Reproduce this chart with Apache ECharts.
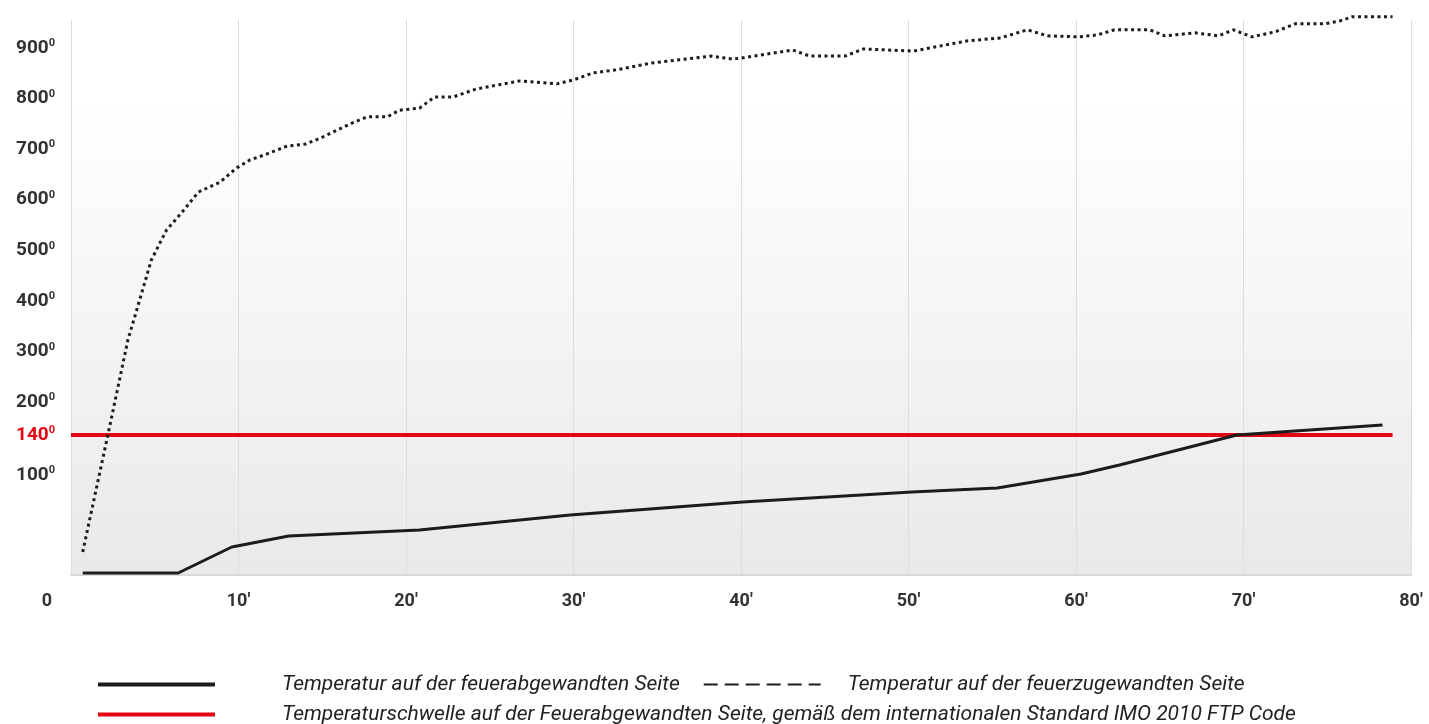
<!DOCTYPE html>
<html>
<head>
<meta charset="utf-8">
<title>Temperaturverlauf</title>
<script src="https://cdn.jsdelivr.net/npm/echarts@6/dist/echarts.min.js"></script>
<style>
  html, body { margin: 0; padding: 0; background: #fff; }
  #chart { width: 1429px; height: 724px; }
</style>
</head>
<body>
<div id="chart"></div>
<script>
// Minuten / Temperatur
var solidMin  = [0.7, 6.4, 9.6, 13.0, 20.8, 29.8, 40.1, 50.2, 55.3, 60.3, 62.6, 69.6, 78.3];
var solidTemp = [2, 2, 28, 39, 45, 60, 73, 83, 87, 101, 110, 140, 158];

var dotMin  = [0.7, 2.2, 3.4, 4.1, 4.8, 5.7, 6.6, 7.6, 8.9, 9.9, 10.7, 11.5, 12.9, 14.0, 14.9, 16.8,
               17.7, 18.9, 19.6, 20.8, 21.7, 22.8, 24.2, 26.8, 29.0, 30.0, 31.2, 32.6, 34.6, 38.2,
               39.5, 40.4, 43.1, 44.1, 46.2, 47.3, 50.3, 53.5, 55.5, 57.1, 58.3, 60.2, 61.3, 62.3,
               64.4, 65.3, 67.1, 68.5, 69.4, 70.5, 71.9, 73.1, 74.9, 75.8, 76.5, 78.9];
var dotTemp = [23, 140, 323, 402, 481, 540, 574, 615, 635, 663, 679, 688, 706, 710, 722, 752,
               764, 764, 777, 781, 803, 803, 819, 835, 829, 837, 851, 857, 870, 884,
               878, 882, 896, 884, 884, 898, 894, 914, 920, 936, 924, 922, 926, 936,
               936, 924, 930, 924, 936, 922, 932, 948, 948, 954, 962, 962];

var limitMin  = [0, 78.9];
var limitTemp = [140, 140];

var yTicks = [100, 140, 200, 300, 400, 500, 600, 700, 800, 900];

var names = [
  'Temperatur auf der feuerabgewandten Seite',
  'Temperatur auf der feuerzugewandten Seite',
  'Temperaturschwelle auf der Feuerabgewandten Seite, gemäß dem internationalen Standard IMO 2010 FTP Code'
];

// die Y-Achse des Originals ist gestaucht: unten 1:1, oberhalb 200 nur halb so hoch
var breakT = [0, 140, 200, 900];
var breakP = [0, 140, 173, 527];
function toAxis(t) {
  for (var i = 1; i < breakT.length; i++) {
    if (t <= breakT[i] || i == breakT.length - 1) {
      var a = breakT[i - 1], b = breakT[i];
      return breakP[i - 1] + (t - a) * (breakP[i] - breakP[i - 1]) / (b - a);
    }
  }
}
function pairs(xs, ts) {
  return xs.map(function (x, i) { return [x, toAxis(ts[i])]; });
}

var chart = echarts.init(document.getElementById('chart'));
var font = 'Roboto';
var hideDot = { opacity: 0 };

var option = {
  animation: false,
  grid: {
    left: 71, right: 18, top: 20, bottom: 149,
    show: true,
    borderWidth: 0,
    backgroundColor: {
      type: 'linear', x: 0, y: 0, x2: 0, y2: 1,
      colorStops: [
        { offset: 0, color: '#ffffff' },
        { offset: 0.15, color: '#ffffff' },
        { offset: 1, color: '#e9e9e9' }
      ]
    }
  },
  xAxis: {
    type: 'value',
    min: 0, max: 80, interval: 10,
    axisLine: { show: true, lineStyle: { color: '#dadada', width: 2 } },
    axisTick: { show: false },
    splitLine: { show: true, lineStyle: { color: '#dddddd', width: 1 } },
    axisLabel: {
      margin: 17,
      color: '#333',
      fontFamily: font,
      fontWeight: 'bold',
      fontSize: 18,
      formatter: function (v) { return v === 0 ? '{z|0}' : v + "'"; },
      rich: {
        z: { fontFamily: font, fontWeight: 'bold', fontSize: 18, color: '#333', padding: [0, 48, 0, 0] }
      }
    }
  },
  yAxis: {
    type: 'value',
    min: 0, max: 555,
    axisLine: { show: false },
    axisTick: { show: false },
    splitLine: { show: false },
    axisLabel: {
      customValues: yTicks.map(toAxis),
      margin: 16,
      formatter: function (v) {
        for (var i = 0; i < yTicks.length; i++) {
          if (Math.abs(toAxis(yTicks[i]) - v) < 0.5) {
            return yTicks[i] == 140 ? '{r|140}{rs|0}' : '{n|' + yTicks[i] + '}{s|0}';
          }
        }
        return '';
      },
      rich: {
        n:  { fontFamily: font, fontWeight: 'bold', fontSize: 19, color: '#333', lineHeight: 20 },
        s:  { fontFamily: font, fontWeight: 'bold', fontSize: 11, color: '#333', lineHeight: 20, verticalAlign: 'top' },
        r:  { fontFamily: font, fontWeight: 'bold', fontSize: 19, color: '#e30613', lineHeight: 20 },
        rs: { fontFamily: font, fontWeight: 'bold', fontSize: 11, color: '#e30613', lineHeight: 20, verticalAlign: 'top' }
      }
    }
  },
  legend: [
    {
      left: 96, top: 674, padding: 0,
      itemWidth: 117, itemHeight: 14, itemGap: 23,
      textStyle: { fontFamily: font, fontStyle: 'italic', fontSize: 21, color: '#222', padding: [0, 0, 0, 22] },
      data: [
        { name: names[0], itemStyle: hideDot, lineStyle: { width: 4 }, textStyle: { padding: [0, 0, 0, 62] } },
        { name: names[1], itemStyle: hideDot, lineStyle: { width: 2, type: [14, 7], cap: 'butt' } }
      ]
    },
    {
      left: 96, top: 704, padding: 0,
      itemWidth: 117, itemHeight: 14,
      textStyle: { fontFamily: font, fontStyle: 'italic', fontSize: 21, color: '#222', padding: [0, 0, 0, 62] },
      data: [{ name: names[2], itemStyle: hideDot, lineStyle: { width: 4 } }]
    }
  ],
  series: [
    {
      name: names[2],
      type: 'line',
      symbol: 'none',
      z: 2,
      data: pairs(limitMin, limitTemp),
      lineStyle: { color: '#e30613', width: 4 },
      itemStyle: { color: '#e30613' }
    },
    {
      name: names[0],
      type: 'line',
      symbol: 'none',
      z: 3,
      data: pairs(solidMin, solidTemp),
      lineStyle: { color: '#1c1c1c', width: 3 },
      itemStyle: { color: '#1c1c1c' }
    },
    {
      name: names[1],
      type: 'line',
      symbol: 'none',
      clip: false,
      z: 3,
      data: pairs(dotMin, dotTemp),
      lineStyle: { color: '#1c1c1c', width: 3, type: [3, 3.5], cap: 'butt' },
      itemStyle: { color: '#1c1c1c' }
    }
  ]
};

chart.setOption(option);
</script>
</body>
</html>
